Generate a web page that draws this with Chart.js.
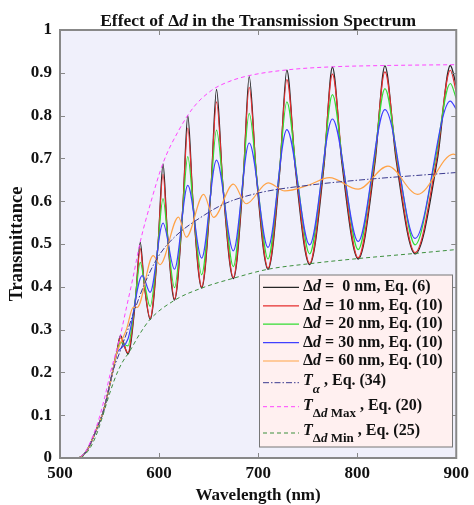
<!DOCTYPE html>
<html>
<head>
<meta charset="utf-8">
<title>Effect of Δd in the Transmission Spectrum</title>
<script src="https://cdn.jsdelivr.net/npm/chart.js@4/dist/chart.umd.min.js"></script>
<style>
html,body{margin:0;padding:0;background:#fff}
canvas{display:block}
</style>
</head>
<body>
<canvas id="spectrum" width="474" height="505"></canvas>
<script>
// steep absorption edge, shared by the ripple curves
const rampNm = [500, 517, 522, 527, 532, 537, 543, 548, 553, 557]
const rampT = [0, 0, 0.004, 0.017, 0.04, 0.068, 0.103, 0.148, 0.2, 0.243]

// Δd = 0 : maxima, minima and the half-height points between them
const nm0 = [561, 568.6, 576.4, 581, 584.7, 591, 599.2, 604, 608.3, 615.6, 624.0, 629, 634.2, 643, 652.4, 658, 664.3, 675, 685.1, 691, 698.0, 710, 722.0, 729, 737.5, 752, 766.5, 775, 784.6, 801, 818.0, 828, 839.3, 858.5, 880.9, 894, 900]
const t0 = [0.286, 0.243, 0.374, 0.504, 0.414, 0.324, 0.506, 0.687, 0.528, 0.369, 0.585, 0.800, 0.599, 0.397, 0.629, 0.861, 0.640, 0.419, 0.655, 0.891, 0.666, 0.441, 0.674, 0.906, 0.679, 0.452, 0.683, 0.913, 0.689, 0.465, 0.691, 0.916, 0.697, 0.477, 0.697, 0.917, 0.870]

// Δd = 10 nm
const nm10 = [561, 568.6, 576.0, 581, 585.0, 591, 598.8, 604, 608.6, 615.6, 623.6, 629, 634.6, 643, 652.0, 658, 664.8, 675, 684.6, 691, 698.6, 710, 721.4, 729, 738.2, 752, 765.8, 775, 785.4, 801, 817.2, 828, 840.2, 858.5, 879.8, 894, 900]
const t10 = [0.281, 0.246, 0.368, 0.489, 0.408, 0.327, 0.495, 0.663, 0.518, 0.372, 0.572, 0.771, 0.586, 0.400, 0.616, 0.832, 0.627, 0.422, 0.644, 0.866, 0.655, 0.444, 0.664, 0.884, 0.670, 0.455, 0.676, 0.897, 0.683, 0.468, 0.685, 0.902, 0.691, 0.480, 0.693, 0.906, 0.855]

// Δd = 20 nm
const nm20 = [561, 568.6, 575.4, 581, 585.5, 591, 598.2, 604, 609.2, 615.6, 623.0, 629, 635.3, 643, 651.3, 658, 665.7, 675, 683.8, 691, 699.6, 710, 720.5, 729, 739.4, 752, 764.7, 775, 786.7, 801, 815.9, 828, 841.7, 858.5, 878.0, 894, 900]
const t20 = [0.270, 0.262, 0.360, 0.457, 0.406, 0.354, 0.480, 0.606, 0.502, 0.398, 0.551, 0.704, 0.566, 0.428, 0.597, 0.766, 0.607, 0.447, 0.626, 0.805, 0.635, 0.465, 0.649, 0.832, 0.655, 0.477, 0.663, 0.849, 0.668, 0.487, 0.675, 0.863, 0.681, 0.498, 0.687, 0.875, 0.840]

// Δd = 30 nm (nearly sinusoidal, extrema only)
const nm30 = [561, 568.6, 583, 591, 604, 615.6, 629, 643, 658, 675, 691, 710, 729, 752, 775, 801, 828, 858.5, 894, 900]
const t30 = [0.255, 0.278, 0.426, 0.387, 0.549, 0.441, 0.637, 0.467, 0.696, 0.484, 0.736, 0.492, 0.767, 0.498, 0.792, 0.506, 0.814, 0.513, 0.834, 0.815]

// Δd = 60 nm has its own, washed out fringes
const nm60 = [561, 567, 574, 578, 594, 601, 619.6, 627.5, 645, 655, 675, 688, 710, 727, 750, 772, 801, 831, 861, 897, 900]
const t60 = [0.268, 0.300, 0.352, 0.352, 0.473, 0.452, 0.563, 0.516, 0.616, 0.562, 0.640, 0.594, 0.643, 0.624, 0.637, 0.655, 0.628, 0.682, 0.616, 0.710, 0.708]

const nmAlpha = [500, 517, 522, 527, 532, 537, 543, 548, 553, 560, 567, 574, 585, 599, 616, 646, 666, 700, 750, 810, 900]
const tAlpha = [0, 0, 0.004, 0.017, 0.04, 0.068, 0.103, 0.148, 0.2, 0.245, 0.29, 0.337, 0.405, 0.47, 0.517, 0.568, 0.594, 0.619, 0.637, 0.651, 0.667]

const nmMax = [500, 517, 522, 527, 532, 537, 541, 546, 551, 556, 561, 566, 574, 581, 592, 604, 620, 635, 653, 670, 690, 730, 775, 828, 900]
const tMax = [0, 0, 0.005, 0.02, 0.045, 0.075, 0.105, 0.15, 0.2, 0.243, 0.287, 0.34, 0.425, 0.505, 0.6, 0.689, 0.766, 0.82, 0.859, 0.879, 0.893, 0.907, 0.914, 0.917, 0.919]

const nmMin = [500, 520, 525, 530, 536, 542, 550, 557, 563, 570, 580, 591, 616, 643, 675, 710, 752, 801, 858.5, 900]
const tMin = [0, 0, 0.008, 0.022, 0.05, 0.09, 0.15, 0.195, 0.224, 0.248, 0.288, 0.324, 0.369, 0.397, 0.42, 0.441, 0.454, 0.466, 0.478, 0.487]

const SERIF = '"Liberation Serif", "Times New Roman", serif'
const PLOT_BG = "#f0f0fb"
const LEGEND_BG = "#fff0f0"

const pts = (xs, ys) => xs.map((x, i) => ({x, y: ys[i]}))
const font = (size, italic) => (italic ? "italic " : "") + "bold " + size + "px " + SERIF

function curve(data, color, width, dash, order){
return {
data,
borderColor: color,
borderWidth: width,
borderDash: dash || [],
pointRadius: 0,
fill: false,
cubicInterpolationMode: "monotone",
order
}
}

const datasets = [
curve(pts(rampNm.concat(nm0), rampT.concat(t0)), "#262626", 1.3, null, 8),
curve(pts(rampNm.concat(nm10), rampT.concat(t10)), "#e62e2e", 1.2, null, 7),
curve(pts(rampNm.concat(nm20), rampT.concat(t20)), "#33dd33", 1.2, null, 6),
curve(pts(rampNm.concat(nm30), rampT.concat(t30)), "#4040ff", 1.2, null, 5),
curve(pts(rampNm.concat(nm60), rampT.concat(t60)), "#ffa347", 1.2, null, 4),
curve(pts(nmAlpha, tAlpha), "#3b3b8f", 1, [6, 2, 1.5, 2], 3),
curve(pts(nmMax, tMax), "#ff44ff", 1, [4, 3], 2),
curve(pts(nmMin, tMin), "#3d8f3d", 1, [4, 3], 1)
]

// legend text, one entry per dataset
const legendRows = [
{y: 287.3, parts: [{t: "Δ"}, {t: "d", it: true}, {t: " =  0 nm, Eq. (6)"}]},
{y: 305.8, parts: [{t: "Δ"}, {t: "d", it: true}, {t: " = 10 nm, Eq. (10)"}]},
{y: 324.2, parts: [{t: "Δ"}, {t: "d", it: true}, {t: " = 20 nm, Eq. (10)"}]},
{y: 342.6, parts: [{t: "Δ"}, {t: "d", it: true}, {t: " = 30 nm, Eq. (10)"}]},
{y: 361, parts: [{t: "Δ"}, {t: "d", it: true}, {t: " = 60 nm, Eq. (10)"}]},
{y: 382.7, parts: [{t: "T", it: true, dy: -2}, {t: "α", it: true, size: 13, dy: 7}, {t: " , Eq. (34)", dy: -2}]},
{y: 406.7, parts: [{t: "T", it: true, dy: -1}, {t: "Δ", size: 13, dy: 7}, {t: "d", it: true, size: 13, dy: 7}, {t: " Max", size: 13, dy: 7}, {t: " , Eq. (20)", dy: -1}]},
{y: 433, parts: [{t: "T", it: true, dy: -2}, {t: "Δ", size: 13, dy: 6}, {t: "d", it: true, size: 13, dy: 6}, {t: " Min", size: 13, dy: 6}, {t: " , Eq. (25)", dy: -2}]}
]

function richWidth(ctx, parts, size){
let w = 0
parts.forEach(p => { ctx.font = font(p.size || size, p.it); w += ctx.measureText(p.t).width })
return w
}

function richText(ctx, x, y, parts, size){
parts.forEach(p => {
ctx.font = font(p.size || size, p.it)
ctx.fillText(p.t, x, y + (p.dy || 0))
x += ctx.measureText(p.t).width
})
}

const decor = {
id: "decor",
beforeDraw(chart){
const {ctx, chartArea: a} = chart
ctx.save()
ctx.fillStyle = PLOT_BG
ctx.fillRect(a.left, a.top, a.right - a.left, a.bottom - a.top)
ctx.restore()
},
afterDatasetsDraw(chart){
const {ctx, chartArea: a, scales} = chart
ctx.save()

/* inward ticks on all four sides */
ctx.strokeStyle = "#888"
ctx.lineWidth = 1
ctx.beginPath()
scales.x.ticks.forEach(t => {
const px = Math.round(scales.x.getPixelForValue(t.value)) + 0.5
ctx.moveTo(px, a.bottom); ctx.lineTo(px, a.bottom - 5)
ctx.moveTo(px, a.top); ctx.lineTo(px, a.top + 5)
})
scales.y.ticks.forEach(t => {
const py = Math.round(scales.y.getPixelForValue(t.value)) + 0.5
ctx.moveTo(a.left, py); ctx.lineTo(a.left + 5, py)
ctx.moveTo(a.right, py); ctx.lineTo(a.right - 5, py)
})
ctx.stroke()

ctx.lineWidth = 2
ctx.strokeRect(a.left, a.top, a.right - a.left, a.bottom - a.top)

/* legend */
const lx = 259.5, ly = 275, lw = 193, lh = 172
ctx.fillStyle = LEGEND_BG
ctx.fillRect(lx, ly, lw, lh)
ctx.strokeStyle = "#777"
ctx.lineWidth = 1
ctx.strokeRect(lx, ly, lw, lh)

ctx.textBaseline = "middle"
ctx.textAlign = "left"
ctx.fillStyle = "#111"
legendRows.forEach((row, i) => {
const ds = datasets[i]
ctx.strokeStyle = ds.borderColor
ctx.lineWidth = ds.borderWidth
ctx.setLineDash(ds.borderDash)
ctx.beginPath()
ctx.moveTo(263, row.y)
ctx.lineTo(299, row.y)
ctx.stroke()
ctx.setLineDash([])
richText(ctx, 303, row.y, row.parts, 16)
})
ctx.restore()
},
afterDraw(chart){
const {ctx, chartArea: a} = chart
const cx = (a.left + a.right) / 2
ctx.save()
ctx.fillStyle = "#111"
ctx.textBaseline = "alphabetic"
ctx.textAlign = "left"

const title = [{t: "Effect of Δ"}, {t: "d", it: true}, {t: " in the Transmission Spectrum"}]
richText(ctx, cx - richWidth(ctx, title, 17.5) / 2, 25.5, title, 17.5)

ctx.textAlign = "center"
ctx.font = font(17)
ctx.fillText("Wavelength (nm)", cx, 499.5)

ctx.font = font(18.5)
ctx.translate(22, (a.top + a.bottom) / 2)
ctx.rotate(-Math.PI / 2)
ctx.fillText("Transmittance", 0, 0)
ctx.restore()
}
}

const tickFont = {family: SERIF, size: 17, weight: "bold"}

new Chart(document.getElementById("spectrum"), {
type: "line",
data: {datasets},
options: {
responsive: false,
animation: false,
devicePixelRatio: 1,
layout: {padding: {top: 30, right: 14, left: 0, bottom: 0}},
plugins: {legend: {display: false}, tooltip: {enabled: false}},
scales: {
x: {
type: "linear", min: 500, max: 900,
ticks: {stepSize: 100, padding: 5, color: "#111", font: tickFont},
grid: {display: false, drawTicks: false},
border: {display: false},
afterFit(s){ s.height = 47 }
},
y: {
min: 0, max: 1,
ticks: {stepSize: 0.1, padding: 8, color: "#111", font: tickFont,
callback: v => String(+v.toFixed(1))},
grid: {display: false, drawTicks: false},
border: {display: false},
afterFit(s){ s.width = 60 }
}
}
},
plugins: [decor]
})
</script>
</body>
</html>
